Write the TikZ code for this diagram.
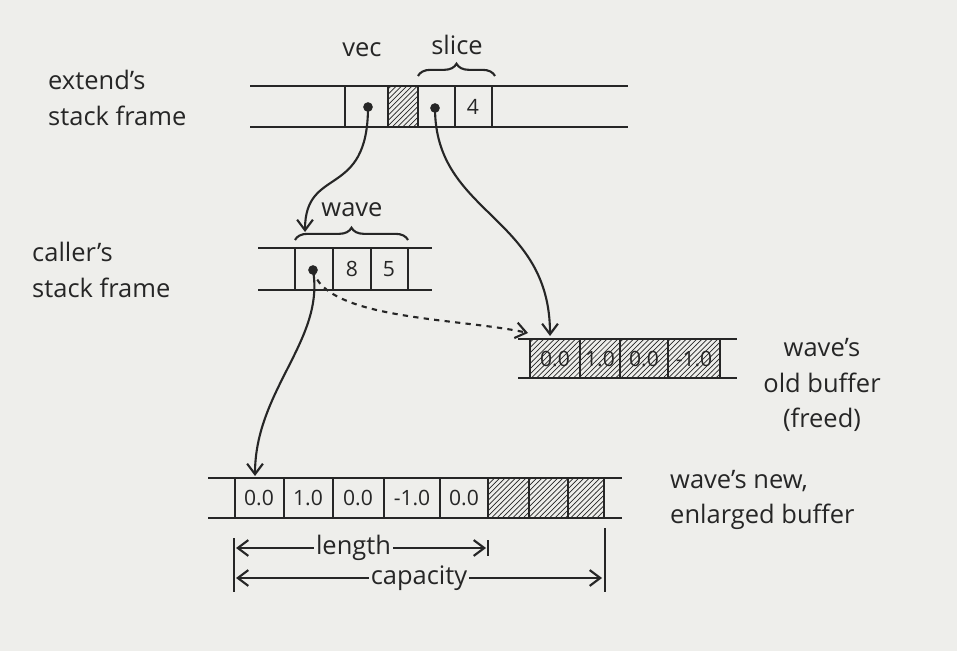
\documentclass[tikz,border=0pt]{standalone}
\usepackage{fontspec}
\setmainfont{Open Sans}
\usepackage{tikz}
\usetikzlibrary{arrows.meta,patterns,decorations.pathreplacing,calc}
\definecolor{PaperGray}{RGB}{238,238,235}
\definecolor{InkGray}{RGB}{38,38,38}
\tikzset{
  frameline/.style={line width=1.3pt,InkGray},
  cellwall/.style={line width=1.2pt,InkGray},
  hatched/.style={pattern=north east lines,pattern color=InkGray},
  celltext/.style={font=\fontsize{12}{14}\selectfont,text=InkGray},
  note/.style={font=\fontsize{14.5}{20}\selectfont,text=InkGray},
  ptrdot/.style={fill=InkGray,circle,inner sep=0pt,minimum size=5.5pt},
  ptr/.style={-{Straight Barb[length=6pt,width=9pt]},line width=1.2pt,InkGray},
  bracket/.style={decorate,decoration={brace,amplitude=7pt},line width=1.2pt,InkGray}
}
\begin{document}
\begin{tikzpicture}[x=0.2mm,y=-0.2mm]
  \fill[PaperGray] (0,0) rectangle (957,651);
  \useasboundingbox (0,0) rectangle (957,651);

  % extend's stack frame
  \draw[frameline] (250,86)--(628,86) (250,127)--(628,127);
  \fill[hatched] (388,86) rectangle (418,127);
  \foreach \x in {345,388,418,455,492} \draw[cellwall] (\x,86)--(\x,127);
  \node[celltext] (four) at (473,107) {4};
  \node[ptrdot] (vecdot) at (368,107) {};
  \node[ptrdot] (slicedot) at (435,108) {};
  \node[note] (vec) at (362,50) {vec};
  \draw[bracket] (418,76)--(495,76);
  \node[note] (slice) at (457,45) {slice};
  \node[note,align=left,anchor=west] (extend) at (42,98) {extend's\\stack frame};

  % caller's stack frame
  \draw[frameline] (258,248)--(432,248) (258,290)--(432,290);
  \foreach \x in {295,333,371,408} \draw[cellwall] (\x,248)--(\x,290);
  \node[celltext] (len) at (352,269) {8};
  \node[celltext] (cap) at (389,269) {5};
  \node[ptrdot] (wavedot) at (313,270) {};
  \draw[bracket] (295,240)--(408,240);
  \node[note] (wave) at (352,210) {wave};
  \node[note,align=left,anchor=west] (caller) at (26,270) {caller's\\stack frame};

  % old buffer
  \draw[frameline] (518,339)--(737,339) (518,378)--(737,378);
  \fill[hatched] (530,339) rectangle (720,378);
  \foreach \x in {530,580,620,668,720} \draw[cellwall] (\x,339)--(\x,378);
  \foreach \v/\x [count=\i] in {0.0/555,1.0/600,0.0/644,-1.0/694}
    \node[celltext] (old\i) at (\x,359) {\v};
  \node[note,align=center] (oldlab) at (822,385) {wave's\\old buffer\\(freed)};

  % new buffer
  \draw[frameline] (208,478)--(622,478) (208,518)--(622,518);
  \fill[hatched] (488,478) rectangle (604,518);
  \foreach \x in {235,284,333,384,440,488,529,568,604} \draw[cellwall] (\x,478)--(\x,518);
  \foreach \v/\x [count=\i] in {0.0/259,1.0/308,0.0/358,-1.0/412,0.0/464}
    \node[celltext] (new\i) at (\x,498) {\v};
  \node[note,align=left,anchor=west] (newlab) at (664,500) {wave's new,\\enlarged buffer};

  % pointers
  \coordinate (wavetip) at (305,232);
  \coordinate (oldtip) at (550,336);
  \coordinate (oldside) at (528,333);
  \coordinate (newtip) at (255,476);
  \draw[ptr] (vecdot.center) .. controls (368,200) and (305,165) .. (wavetip);
  \draw[ptr] (slicedot.center) .. controls (435,215) and (550,215) .. (oldtip);
  \draw[ptr,dashed] (wavedot.center) .. controls (325,320) and (460,318) .. (oldside);
  \draw[ptr] (wavedot.center) .. controls (325,340) and (255,390) .. (newtip);

  % length and capacity
  \coordinate (lenL) at (236,548);
  \coordinate (lenR) at (486,548);
  \coordinate (capL) at (236,578);
  \coordinate (capR) at (602,578);
  \draw[cellwall] (234,538)--(234,592) (488,540)--(488,556) (605,528)--(605,592);
  \draw[ptr,{Straight Barb[length=6pt,width=9pt]}-{Straight Barb[length=6pt,width=9pt]}]
    (lenL) -- node[note,fill=PaperGray,pos=0.47,inner sep=1pt] (length) {length} (lenR);
  \draw[ptr,{Straight Barb[length=6pt,width=9pt]}-{Straight Barb[length=6pt,width=9pt]}]
    (capL) -- node[note,fill=PaperGray,pos=0.5,inner sep=1pt] (capacity) {capacity} (capR);
\end{tikzpicture}
\end{document}
